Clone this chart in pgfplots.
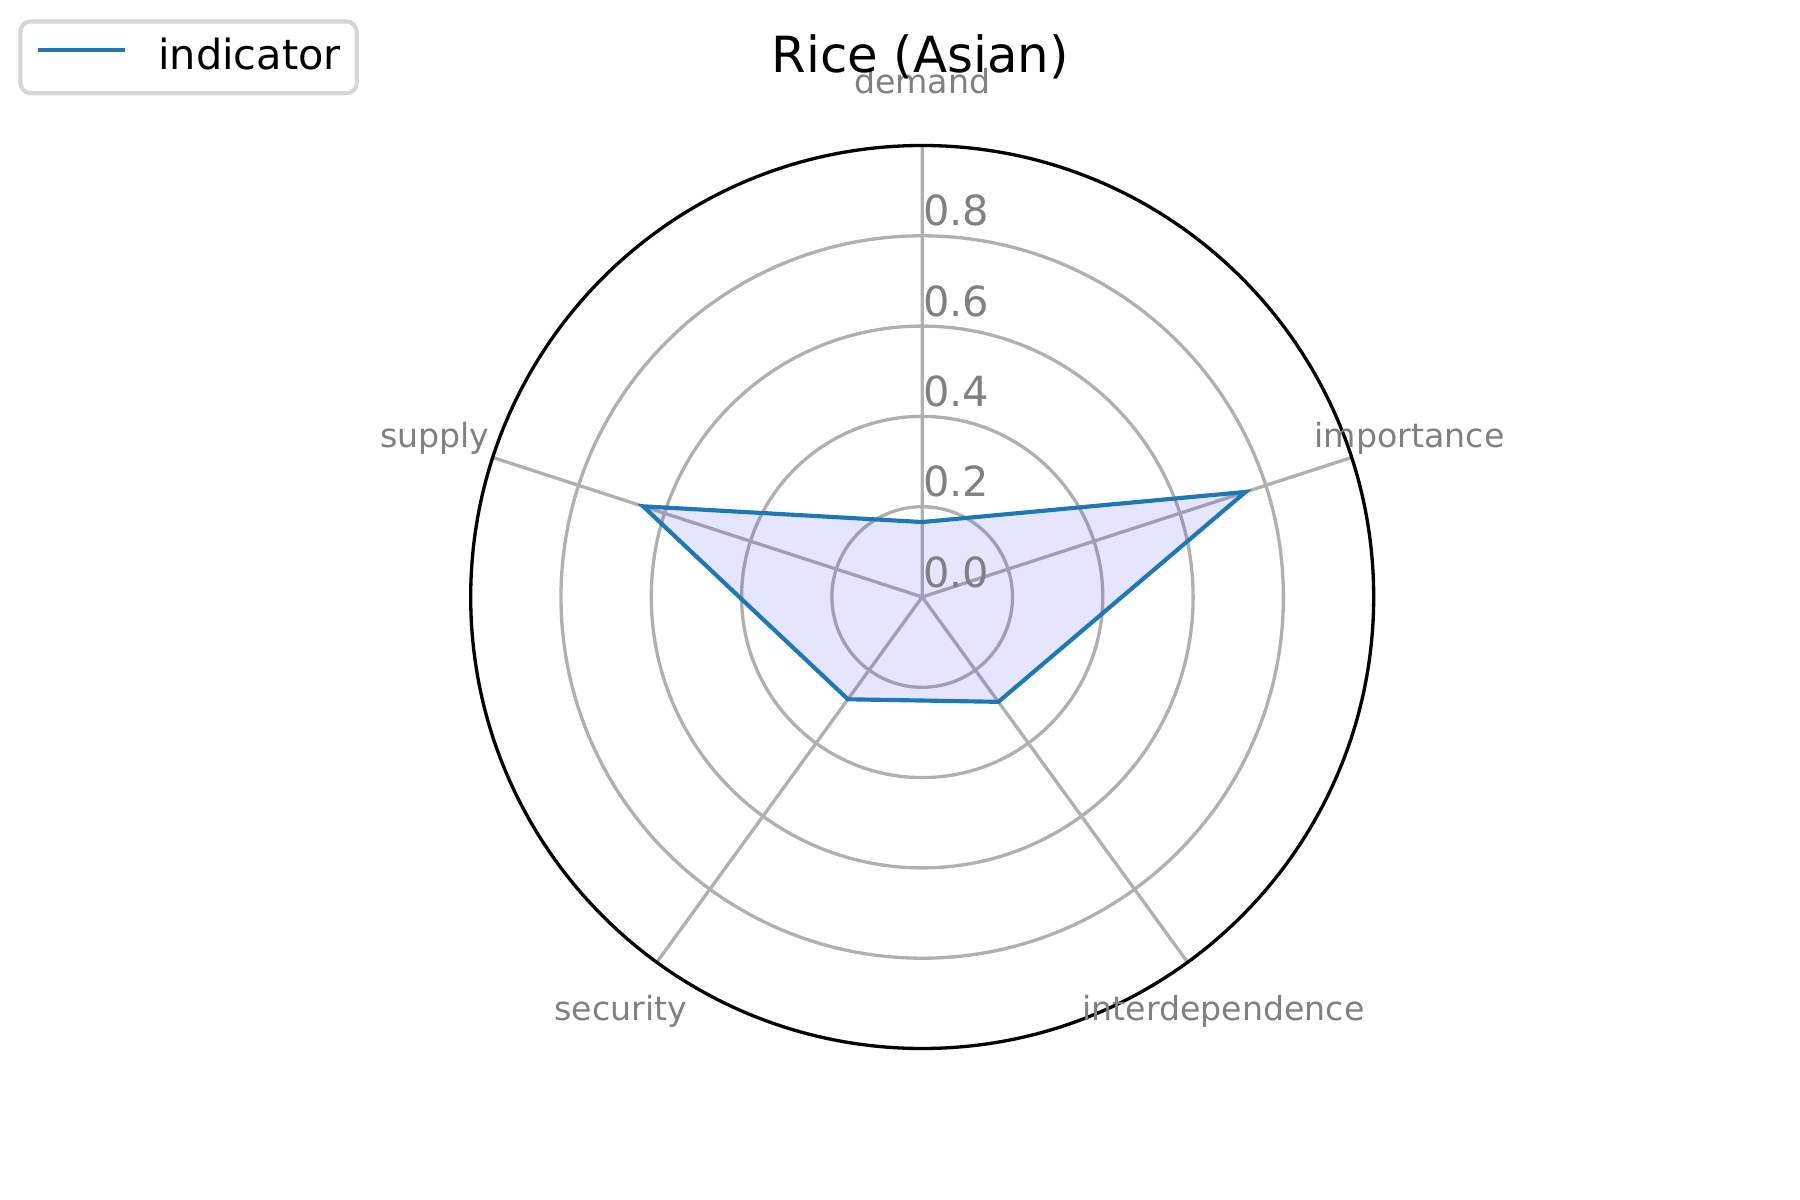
\documentclass[border=0pt]{standalone}
\usepackage{fontspec}
\setmainfont{DejaVu Sans}
\usepackage{pgfplots}
\pgfplotsset{compat=1.18}
\usepgfplotslibrary{polar}
\definecolor{tabblue}{RGB}{31,119,180}
\definecolor{gridgray}{RGB}{176,176,176}
\definecolor{labgray}{RGB}{128,128,128}
\definecolor{legedge}{RGB}{214,214,214}
\tikzset{rlab/.style={anchor=base west, inner sep=0pt, yshift=2.4pt, text=labgray,
        font=\fontsize{10}{12}\selectfont},
  alab/.style={anchor=center, inner sep=0pt, text height=6.1pt, text depth=1.66pt,
        text=labgray, font=\fontsize{8}{10}\selectfont}}
\begin{document}
\begin{tikzpicture}
\useasboundingbox (0,0) rectangle (6in,4in);
\begin{polaraxis}[
  at={(3.074in,2.01in)}, anchor=origin,
  scale only axis, width=3.01in, height=3.01in,
  ymin=0, ymax=1,
  xtick={18,90,162,234,306}, xticklabels={},
  ytick={0.2,0.4,0.6,0.8}, yticklabels={},
  major tick length=0pt,
  grid=major,
  major grid style={color=gridgray, line width=0.8pt},
  x axis line style={black, line width=0.8pt},
  y axis line style={draw=none},
  clip=false,
  legend style={at={(-0.501,1.1397)}, anchor=north west,
    draw=legedge, line width=1pt, rounded corners=2.5pt,
    font=\fontsize{10}{12}\selectfont,
    inner xsep=3.8pt, inner ysep=4.1pt,
    nodes={inner sep=0pt}, column sep=7.6pt},
  legend image code/.code={\draw[#1] (-0.8pt,1.7pt) -- (20pt,1.7pt);},
]
\addplot[draw=none, fill=blue, fill opacity=0.1, forget plot] coordinates {
  (90,0.166) (18,0.753) (306,0.287) (234,0.280) (162,0.650) (90,0.166)};
\addplot[color=tabblue, line width=1pt] coordinates {
  (90,0.166) (18,0.753) (306,0.287) (234,0.280) (162,0.650) (90,0.166)};
\addlegendentry{indicator}
\node[rlab] at (axis cs:90,0) {0.0};
\node[rlab] at (axis cs:90,0.2) {0.2};
\node[rlab] at (axis cs:90,0.4) {0.4};
\node[rlab] at (axis cs:90,0.6) {0.6};
\node[rlab] at (axis cs:90,0.8) {0.8};
\node[alab] at (axis cs:90,1.135) {demand};
\node[alab] at (axis cs:18,1.135) {importance};
\node[alab] at (axis cs:306,1.135) {interdependence};
\node[alab] at (axis cs:234,1.135) {security};
\node[alab] at (axis cs:162,1.135) {supply};
\end{polaraxis}
\node[anchor=base, inner sep=0pt, font=\fontsize{12}{14}\selectfont] at (3.067in,3.757in) {Rice (Asian)};
\end{tikzpicture}
\end{document}
